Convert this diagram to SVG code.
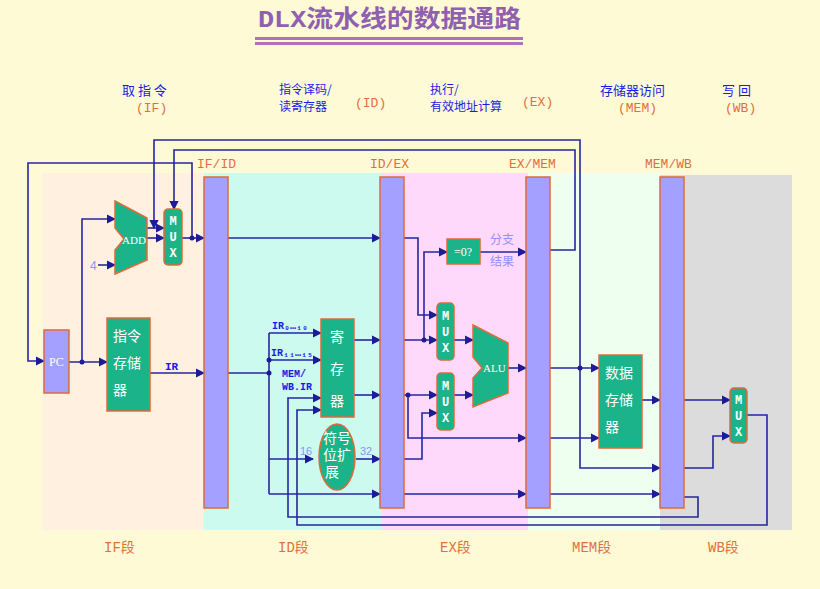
<svg xmlns="http://www.w3.org/2000/svg" width="820" height="589" viewBox="0 0 820 589">
<defs>
<marker id="a" viewBox="0 0 8 8" refX="7" refY="4" markerWidth="6" markerHeight="6" orient="auto"><path d="M0,0L8,4L0,8z" fill="#1c1c96"/></marker>
<style>
.w{fill:none;stroke:#2626a0;stroke-width:1.6}
.ar{marker-end:url(#a)}
.latch{fill:#a3a0ff;stroke:#e06a3a;stroke-width:1.5}
.g{fill:#1bb38a;stroke:#e06a3a;stroke-width:1.5}
.t{font-family:"Liberation Mono","Noto Sans CJK SC",monospace}
.cj{font-family:"Noto Sans CJK SC",sans-serif}
.or{fill:#e0703a}
.bl{fill:#1a1ae6}
.wt{fill:#ffffff;font-family:"Noto Sans CJK SC",sans-serif;font-size:14px}
.mx{fill:#ffffff;font-family:"Liberation Mono",monospace;font-size:12px;font-weight:bold;text-anchor:middle}
.dot{fill:#1c1c96}
</style>
</defs>
<rect width="820" height="589" fill="#fffad6"/>
<rect x="42" y="173" width="162" height="357" fill="#fff0e0"/>
<rect x="204" y="173" width="178" height="357" fill="#ccfaee"/>
<rect x="382" y="173" width="146" height="357" fill="#ffd9fc"/>
<rect x="528" y="173" width="132" height="357" fill="#efffef"/>
<rect x="660" y="175" width="132" height="355" fill="#dcdcdc"/>
<g id="title">
<text x="258" y="27" class="t" font-size="24" font-weight="bold" fill="#9060b0" textLength="263" lengthAdjust="spacingAndGlyphs">DLX流水线的数据通路</text>
<rect x="255" y="37" width="268" height="3" fill="#b070c0"/>
<rect x="255" y="42" width="268" height="3" fill="#b070c0"/>
</g>
<g id="headers" class="cj" font-size="12">
<text x="122" y="95" class="bl" font-size="13">取 指 令</text>
<text x="136" y="112" class="or t" font-size="13">(IF)</text>
<text x="279" y="94" class="bl">指令译码/</text>
<text x="279" y="111" class="bl">读寄存器</text>
<text x="355" y="107" class="or t" font-size="13">(ID)</text>
<text x="430" y="94" class="bl">执行/</text>
<text x="430" y="111" class="bl">有效地址计算</text>
<text x="522" y="106" class="or t" font-size="13">(EX)</text>
<text x="600" y="95" class="bl" font-size="13">存储器访问</text>
<text x="618" y="112" class="or t" font-size="13">(MEM)</text>
<text x="722" y="95" class="bl" font-size="13">写 回</text>
<text x="725" y="112" class="or t" font-size="13">(WB)</text>
</g>
<g id="stagelabels" class="t or" font-size="14">
<text x="104" y="552">IF段</text>
<text x="278" y="552">ID段</text>
<text x="440" y="552">EX段</text>
<text x="572" y="552">MEM段</text>
<text x="708" y="552">WB段</text>
</g>
<g id="latchlabels" class="t or" font-size="13">
<text x="197" y="168">IF/ID</text>
<text x="370" y="168">ID/EX</text>
<text x="509" y="168">EX/MEM</text>
<text x="645" y="168">MEM/WB</text>
</g>
<g id="connectors">
<path class="w ar" d="M69,362H107"/>
<path class="w ar" d="M82,362V219H115"/>
<path class="w ar" d="M98,265H115"/>
<path class="w ar" d="M147,228H164"/>
<path class="w ar" d="M147,238H164"/>
<path class="w ar" d="M580,368V140H154V228"/>
<path class="w ar" d="M550,250H575V150H174V209"/>
<path class="w ar" d="M182,238H204"/>
<path class="w ar" d="M192,238V163H28V361H44"/>
<path class="w ar" d="M228,238H380"/>
<path class="w ar" d="M150,373H204"/>
<path class="w" d="M228,373H269"/>
<path class="w" d="M269,333V494"/>
<path class="w ar" d="M269,333H321"/>
<path class="w ar" d="M269,360H321"/>
<path class="w ar" d="M269,459H313"/>
<path class="w ar" d="M269,494H380"/>
<path class="w ar" d="M684,497H698V517H288V398H321"/>
<path class="w ar" d="M747,415H767V525H297V410H321"/>
<path class="w ar" d="M354,340H380"/>
<path class="w ar" d="M354,395H380"/>
<path class="w ar" d="M356,459H380"/>
<path class="w ar" d="M404,238H418V315H437"/>
<path class="w ar" d="M404,340H437"/>
<path class="w ar" d="M424,340V252H447"/>
<path class="w ar" d="M404,395H437"/>
<path class="w ar" d="M408,395V438H526"/>
<path class="w ar" d="M404,459H422V413H437"/>
<path class="w ar" d="M404,494H526"/>
<path class="w ar" d="M454,340H473"/>
<path class="w ar" d="M454,395H473"/>
<path class="w ar" d="M508,368H526"/>
<path class="w ar" d="M480,252H526"/>
<path class="w ar" d="M550,368H599"/>
<path class="w ar" d="M580,368V468H660"/>
<path class="w ar" d="M550,438H599"/>
<path class="w ar" d="M550,494H660"/>
<path class="w ar" d="M642,400H660"/>
<path class="w ar" d="M684,400H730"/>
<path class="w ar" d="M684,468H713V436H730"/>
<circle class="dot" cx="82" cy="362" r="2.5"/>
<circle class="dot" cx="192" cy="238" r="2.5"/>
<circle class="dot" cx="269" cy="373" r="2.5"/>
<circle class="dot" cx="269" cy="360" r="2.5"/>
<circle class="dot" cx="424" cy="340" r="2.5"/>
<circle class="dot" cx="408" cy="395" r="2.5"/>
<circle class="dot" cx="580" cy="368" r="2.5"/>
</g>
<g id="IFID"><rect class="latch" x="204" y="177" width="24" height="331"/></g>
<g id="IDEX"><rect class="latch" x="380" y="177" width="24" height="331"/></g>
<g id="EXMEM"><rect class="latch" x="526" y="177" width="24" height="331"/></g>
<g id="MEMWB"><rect class="latch" x="660" y="177" width="24" height="331"/></g>
<g id="PC"><rect class="latch" x="44" y="330" width="25" height="63"/><text x="49" y="366" fill="#fff" font-family="Liberation Serif,serif" font-size="12">PC</text></g>
<g id="imem"><rect class="g" x="107" y="318" width="43" height="93"/>
<text x="113" y="341" class="wt">指令</text><text x="113" y="368" class="wt">存储</text><text x="113" y="395" class="wt">器</text></g>
<text x="165" y="370" class="t" font-size="11" font-weight="bold" fill="#1a1ae6">IR</text>
<text x="90" y="270" fill="#9090ff" font-family="Liberation Sans,sans-serif" font-size="12">4</text>
<g id="add"><path class="g" d="M115,201L147,218V260L115,274V250L124,239L115,228Z"/>
<text x="122" y="244" fill="#fff" font-family="Liberation Serif,serif" font-size="11">ADD</text></g>
<g id="mux0"><rect class="g" x="164" y="209" width="18" height="56" rx="4"/>
<text x="173" y="225" class="mx">M</text><text x="173" y="241" class="mx">U</text><text x="173" y="257" class="mx">X</text></g>
<g id="regs"><rect class="g" x="321" y="319" width="33" height="98"/>
<text x="330" y="342" class="wt">寄</text><text x="330" y="374" class="wt">存</text><text x="330" y="406" class="wt">器</text></g>
<g id="regtxt" class="t" font-size="10" font-weight="bold" fill="#1a1ae6">
<text x="272" y="329">IR₀…₁₀</text><text x="271" y="356">IR₁₁…₁₅</text>
<text x="282" y="377">MEM/</text><text x="282" y="390">WB.IR</text>
</g>
<g id="ext"><ellipse class="g" cx="337" cy="457" rx="18" ry="33"/>
<text x="337" y="443" class="wt" font-size="10.5" text-anchor="middle">符号</text><text x="337" y="460" class="wt" font-size="10.5" text-anchor="middle">位扩</text><text x="332" y="477" class="wt" font-size="10.5" text-anchor="middle">展</text></g>
<text x="300" y="455" fill="#9090ff" font-family="Liberation Sans,sans-serif" font-size="11">16</text>
<text x="360" y="455" fill="#9090ff" font-family="Liberation Sans,sans-serif" font-size="11">32</text>
<g id="zero"><rect class="g" x="447" y="239" width="33" height="25"/>
<text x="463" y="256" fill="#fff" font-family="Liberation Serif,serif" font-size="12" text-anchor="middle">=0?</text></g>
<text x="490" y="244" class="cj" font-size="12" fill="#9090ff">分支</text>
<text x="490" y="266" class="cj" font-size="12" fill="#9090ff">结果</text>
<g id="mux1"><rect class="g" x="437" y="303" width="17" height="57" rx="4"/>
<text x="445.5" y="320" class="mx">M</text><text x="445.5" y="336" class="mx">U</text><text x="445.5" y="352" class="mx">X</text></g>
<g id="mux2"><rect class="g" x="437" y="373" width="17" height="57" rx="4"/>
<text x="445.5" y="390" class="mx">M</text><text x="445.5" y="406" class="mx">U</text><text x="445.5" y="422" class="mx">X</text></g>
<g id="alu"><path class="g" d="M473,325L508,343V393L473,407V378L482,368L473,357Z"/>
<text x="483" y="372" fill="#fff" font-family="Liberation Serif,serif" font-size="11">ALU</text></g>
<g id="dmem"><rect class="g" x="599" y="355" width="43" height="93"/>
<text x="605" y="378" class="wt">数据</text><text x="605" y="405" class="wt">存储</text><text x="605" y="432" class="wt">器</text></g>
<g id="mux3"><rect class="g" x="730" y="388" width="17" height="55" rx="4"/>
<text x="738.5" y="404" class="mx">M</text><text x="738.5" y="420" class="mx">U</text><text x="738.5" y="436" class="mx">X</text></g>
</svg>
